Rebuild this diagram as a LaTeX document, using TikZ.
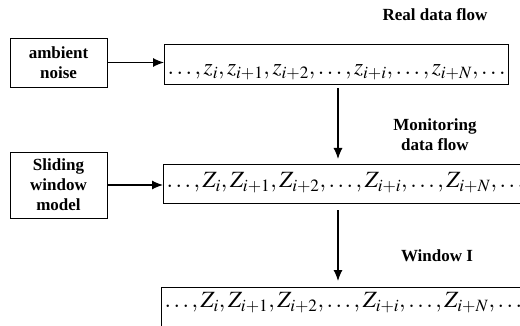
\documentclass[tikz,border=0pt]{standalone}
\usepackage{mathptmx}
\usepackage{fontspec}
\setmainfont{Liberation Serif}
\usetikzlibrary{arrows.meta}
\newcommand{\seqlow}{$\ldots,z_i,z_{i+1},z_{i+2},\ldots,z_{i+i},\ldots,z_{i+N},\ldots$}
\newcommand{\seqcap}{$\ldots,Z_i,Z_{i+1},Z_{i+2},\ldots,Z_{i+i},\ldots,Z_{i+N},\ldots$}
\tikzset{
  srcbox/.style={draw, line width=0.9pt, minimum width=97pt, align=center,
    font=\bfseries\fontsize{17}{20}\selectfont},
  seqbox/.style={draw, line width=1.1pt, anchor=north west, inner xsep=3pt,
    inner ysep=0pt, font=\fontsize{23.3}{25}\selectfont},
  lbl/.style={align=center, font=\bfseries\fontsize{17}{20}\selectfont},
  arr/.style={line width=1.1pt, -{Latex[length=11pt,width=9pt]}}
}
\begin{document}
\begin{tikzpicture}[x=1pt,y=-1pt]
\useasboundingbox (0,0) rectangle (520,326);
\clip (0,0) rectangle (520,326);
% input boxes on the left
\node[srcbox, minimum height=49pt] (amb) at (58.5,62.5) {ambient\\noise};
\node[srcbox, minimum height=66pt] (slide) at (58.5,185) {Sliding\\window\\model};
% sequence rows
\node[seqbox, minimum width=343pt, text height=30pt, text depth=10pt]
  (row1) at (164,44) {\seqlow};
\node[seqbox, text width=390pt, text height=23pt, text depth=16pt]
  (row2) at (163,164) {\seqcap};
\node[seqbox, text width=390pt, text height=20pt, text depth=40pt]
  (row3) at (161,287) {\seqcap};
% headings
\node[lbl] (h1) at (435,15) {Real data flow};
\node[lbl] (h2) at (435,135) {Monitoring\\data flow};
\node[lbl] (h3) at (437,256) {Window I};
% connectors
\coordinate (axis) at (338,0);
\draw[arr] (amb.east) -- (amb.east -| row1.west);
\draw[arr] (slide.east) -- (slide.east -| row2.west);
\draw[arr] ([yshift=-3pt] axis |- row1.south) -- ([yshift=5pt] axis |- row2.north);
\draw[arr] ([yshift=-6pt] axis |- row2.south) -- ([yshift=6pt] axis |- row3.north);
\end{tikzpicture}
\end{document}
